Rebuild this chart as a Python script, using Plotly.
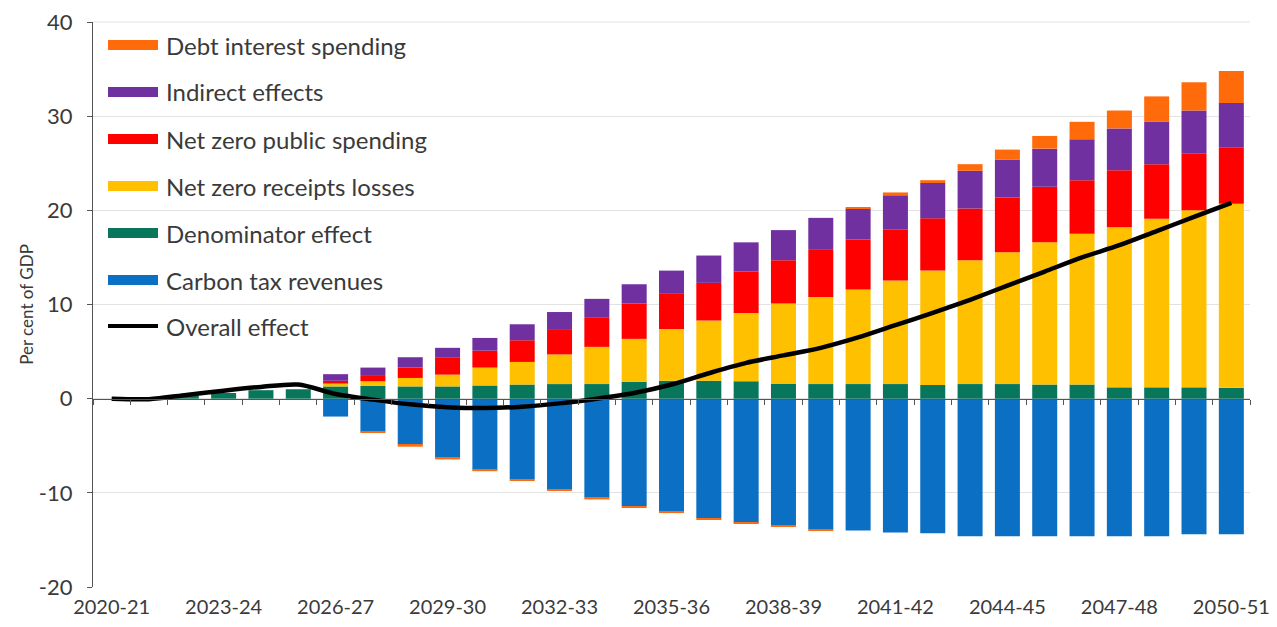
import plotly.graph_objects as go

years = ["2020-21", "2021-22", "2022-23", "2023-24", "2024-25", "2025-26", "2026-27",
         "2027-28", "2028-29", "2029-30", "2030-31", "2031-32", "2032-33", "2033-34",
         "2034-35", "2035-36", "2036-37", "2037-38", "2038-39", "2039-40", "2040-41",
         "2041-42", "2042-43", "2043-44", "2044-45", "2045-46", "2046-47", "2047-48",
         "2048-49", "2049-50", "2050-51"]
tick_labels = ["2020-21", "2023-24", "2026-27", "2029-30", "2032-33", "2035-36",
               "2038-39", "2041-42", "2044-45", "2047-48", "2050-51"]
y_tick_vals = [-20, -10, 0, 10, 20, 30, 40]
y_tick_text = ["-20", "-10", "0", "10", "20", "30", "40"]

carbon_tax = [0, 0, 0, 0, 0, 0, -1.9, -3.5, -4.9, -6.3, -7.55, -8.55, -9.65, -10.5, -11.4,
              -12.0, -12.7, -13.2, -13.5, -13.9, -14.0, -14.2, -14.3, -14.6, -14.6, -14.6,
              -14.6, -14.6, -14.6, -14.4, -14.4]
denominator = [0, 0, 0.3, 0.6, 0.9, 1.0, 1.3, 1.35, 1.3, 1.3, 1.4, 1.5, 1.55, 1.55, 1.8,
               1.9, 1.9, 1.85, 1.6, 1.55, 1.55, 1.55, 1.45, 1.55, 1.55, 1.5, 1.5, 1.2, 1.2,
               1.2, 1.15]
receipts_losses = [0, 0, 0, 0, 0, 0, 0.3, 0.5, 0.9, 1.25, 1.9, 2.4, 3.15, 3.95, 4.55, 5.5,
                   6.4, 7.25, 8.5, 9.25, 10.05, 11.0, 12.15, 13.15, 14.0, 15.1, 16.0, 17.0,
                   17.9, 18.8, 19.55]
public_spending = [0, 0, 0, 0, 0, 0, 0.3, 0.65, 1.1, 1.85, 1.8, 2.3, 2.6, 3.15, 3.75, 3.8,
                   4.0, 4.4, 4.6, 5.0, 5.3, 5.45, 5.55, 5.5, 5.8, 5.9, 5.7, 6.05, 5.8, 6.0,
                   6.0]
indirect = [0, 0, 0, 0, 0, 0, 0.7, 0.8, 1.1, 1.0, 1.35, 1.7, 1.9, 1.95, 2.05, 2.4, 2.9,
            3.1, 3.2, 3.4, 3.3, 3.6, 3.75, 4.0, 4.05, 4.05, 4.35, 4.45, 4.5, 4.6, 4.7]
debt_interest = [0, 0, 0, 0, 0, 0, 0, -0.05, -0.2, -0.15, -0.15, -0.15, -0.15, -0.2, -0.15,
                 -0.15, -0.1, -0.1, -0.1, -0.05, 0.15, 0.3, 0.3, 0.7, 1.05, 1.35, 1.85, 1.9,
                 2.7, 3.0, 3.4]
overall = [0, -0.05, 0.4, 0.85, 1.25, 1.5, 0.5, -0.1, -0.6, -0.9, -1.0, -0.85, -0.5, 0.0,
           0.6, 1.5, 2.7, 3.8, 4.6, 5.4, 6.5, 7.8, 9.1, 10.5, 12.0, 13.5, 15.0, 16.3, 17.8,
           19.3, 20.8]

series_names = ["Debt interest spending", "Indirect effects", "Net zero public spending",
                "Net zero receipts losses", "Denominator effect", "Carbon tax revenues",
                "Overall effect"]

C_BLUE = "#0B6FC4"
C_GREEN = "#08765A"
C_YELLOW = "#FFC000"
C_RED = "#FF0000"
C_PURPLE = "#7030A0"
C_ORANGE = "#FF6A0A"
TEXT = "#3a3a3a"
GRID = "#e2e2e2"
FONT = "Lato"

fig = go.Figure()
bar_specs = [
    ("Carbon tax revenues", carbon_tax, C_BLUE),
    ("Denominator effect", denominator, C_GREEN),
    ("Net zero receipts losses", receipts_losses, C_YELLOW),
    ("Net zero public spending", public_spending, C_RED),
    ("Indirect effects", indirect, C_PURPLE),
    ("Debt interest spending", debt_interest, C_ORANGE),
]
for name, vals, col in bar_specs:
    fig.add_trace(go.Bar(x=years, y=vals, name=name, marker_color=col,
                         marker_line_width=0, showlegend=False))

fig.add_trace(go.Scatter(x=years, y=overall, name="Overall effect", mode="lines",
                         line=dict(color="black", width=4.5, shape="spline", smoothing=0.8),
                         xaxis="x2", showlegend=False))

# The page body adds an 8px offset; figure sized to fit the 1277x627 window.
OFF = 8
W, H = 1277 - 2 * OFF, 627 - 2 * OFF
# Desired plot area in window pixels
PL, PR, PT, PB = 93, 1250, 22, 587
L, T = PL - OFF, PT - OFF
R = (W + OFF) - PR
B = (H + OFF) - PB
pw, ph = PR - PL, PB - PT

def px_x(px):
    return (px - PL) / pw

def px_y(py):
    return (PB - py) / ph

# top gridline (at the range edge plotly omits it)
shapes = [dict(type="line", xref="paper", yref="paper", x0=0, x1=1, y0=1, y1=1,
               line=dict(color=GRID, width=1), layer="below")]
annotations = []
legend_colors = [C_ORANGE, C_PURPLE, C_RED, C_YELLOW, C_GREEN, C_BLUE, "black"]
legend_ys = [45, 92, 139, 186, 233, 280, 326]
for name, col, cy in zip(series_names, legend_colors, legend_ys):
    if name == "Overall effect":
        shapes.append(dict(type="line", xref="paper", yref="paper",
                           x0=px_x(108), x1=px_x(158), y0=px_y(cy), y1=px_y(cy),
                           line=dict(color=col, width=4)))
    else:
        shapes.append(dict(type="rect", xref="paper", yref="paper",
                           x0=px_x(108), x1=px_x(158), y0=px_y(cy + 5), y1=px_y(cy - 5),
                           fillcolor=col, line=dict(width=0)))
    annotations.append(dict(text=name, xref="paper", yref="paper", x=px_x(164),
                            y=px_y(cy), xanchor="left", yanchor="middle", showarrow=False,
                            font=dict(family=FONT, size=24, color=TEXT)))

fig.update_layout(
    width=W, height=H,
    margin=dict(l=L, r=R, t=T, b=B, autoexpand=False),
    paper_bgcolor="white", plot_bgcolor="white",
    barmode="relative", bargap=0.33,
    showlegend=False,
    shapes=shapes, annotations=annotations,
    font=dict(family=FONT, color=TEXT),
    xaxis=dict(type="category", categoryorder="array", categoryarray=years,
               tickmode="array", tickvals=tick_labels, ticktext=tick_labels,
               showgrid=False, showline=False, ticks="", zeroline=False, automargin=False,
               ticklabelstandoff=6, ticklabeloverflow="allow",
               tickfont=dict(family=FONT, size=20, color=TEXT)),
    xaxis2=dict(type="category", categoryorder="array", categoryarray=years,
                overlaying="x", matches="x", anchor="free", position=1/3,
                showticklabels=False, ticks="outside", ticklen=5, tickson="boundaries",
                tickcolor="#555", showline=True, linecolor="#555", linewidth=1.2,
                showgrid=False, zeroline=False, automargin=False),
    yaxis=dict(range=[-20, 40], tickmode="array", tickvals=y_tick_vals,
               ticktext=y_tick_text, ticks="outside", ticklen=5, tickcolor="#555",
               showline=True, linecolor="#555", linewidth=1.2, automargin=False,
               gridcolor=GRID, gridwidth=1, zeroline=False, ticklabelstandoff=10,
               ticklabeloverflow="allow",
               tickfont=dict(family=FONT, size=22, color=TEXT),
               title=dict(text="Per cent of GDP", font=dict(family=FONT, size=17, color=TEXT),
                          standoff=0)),
)

fig.write_html("out.html")
